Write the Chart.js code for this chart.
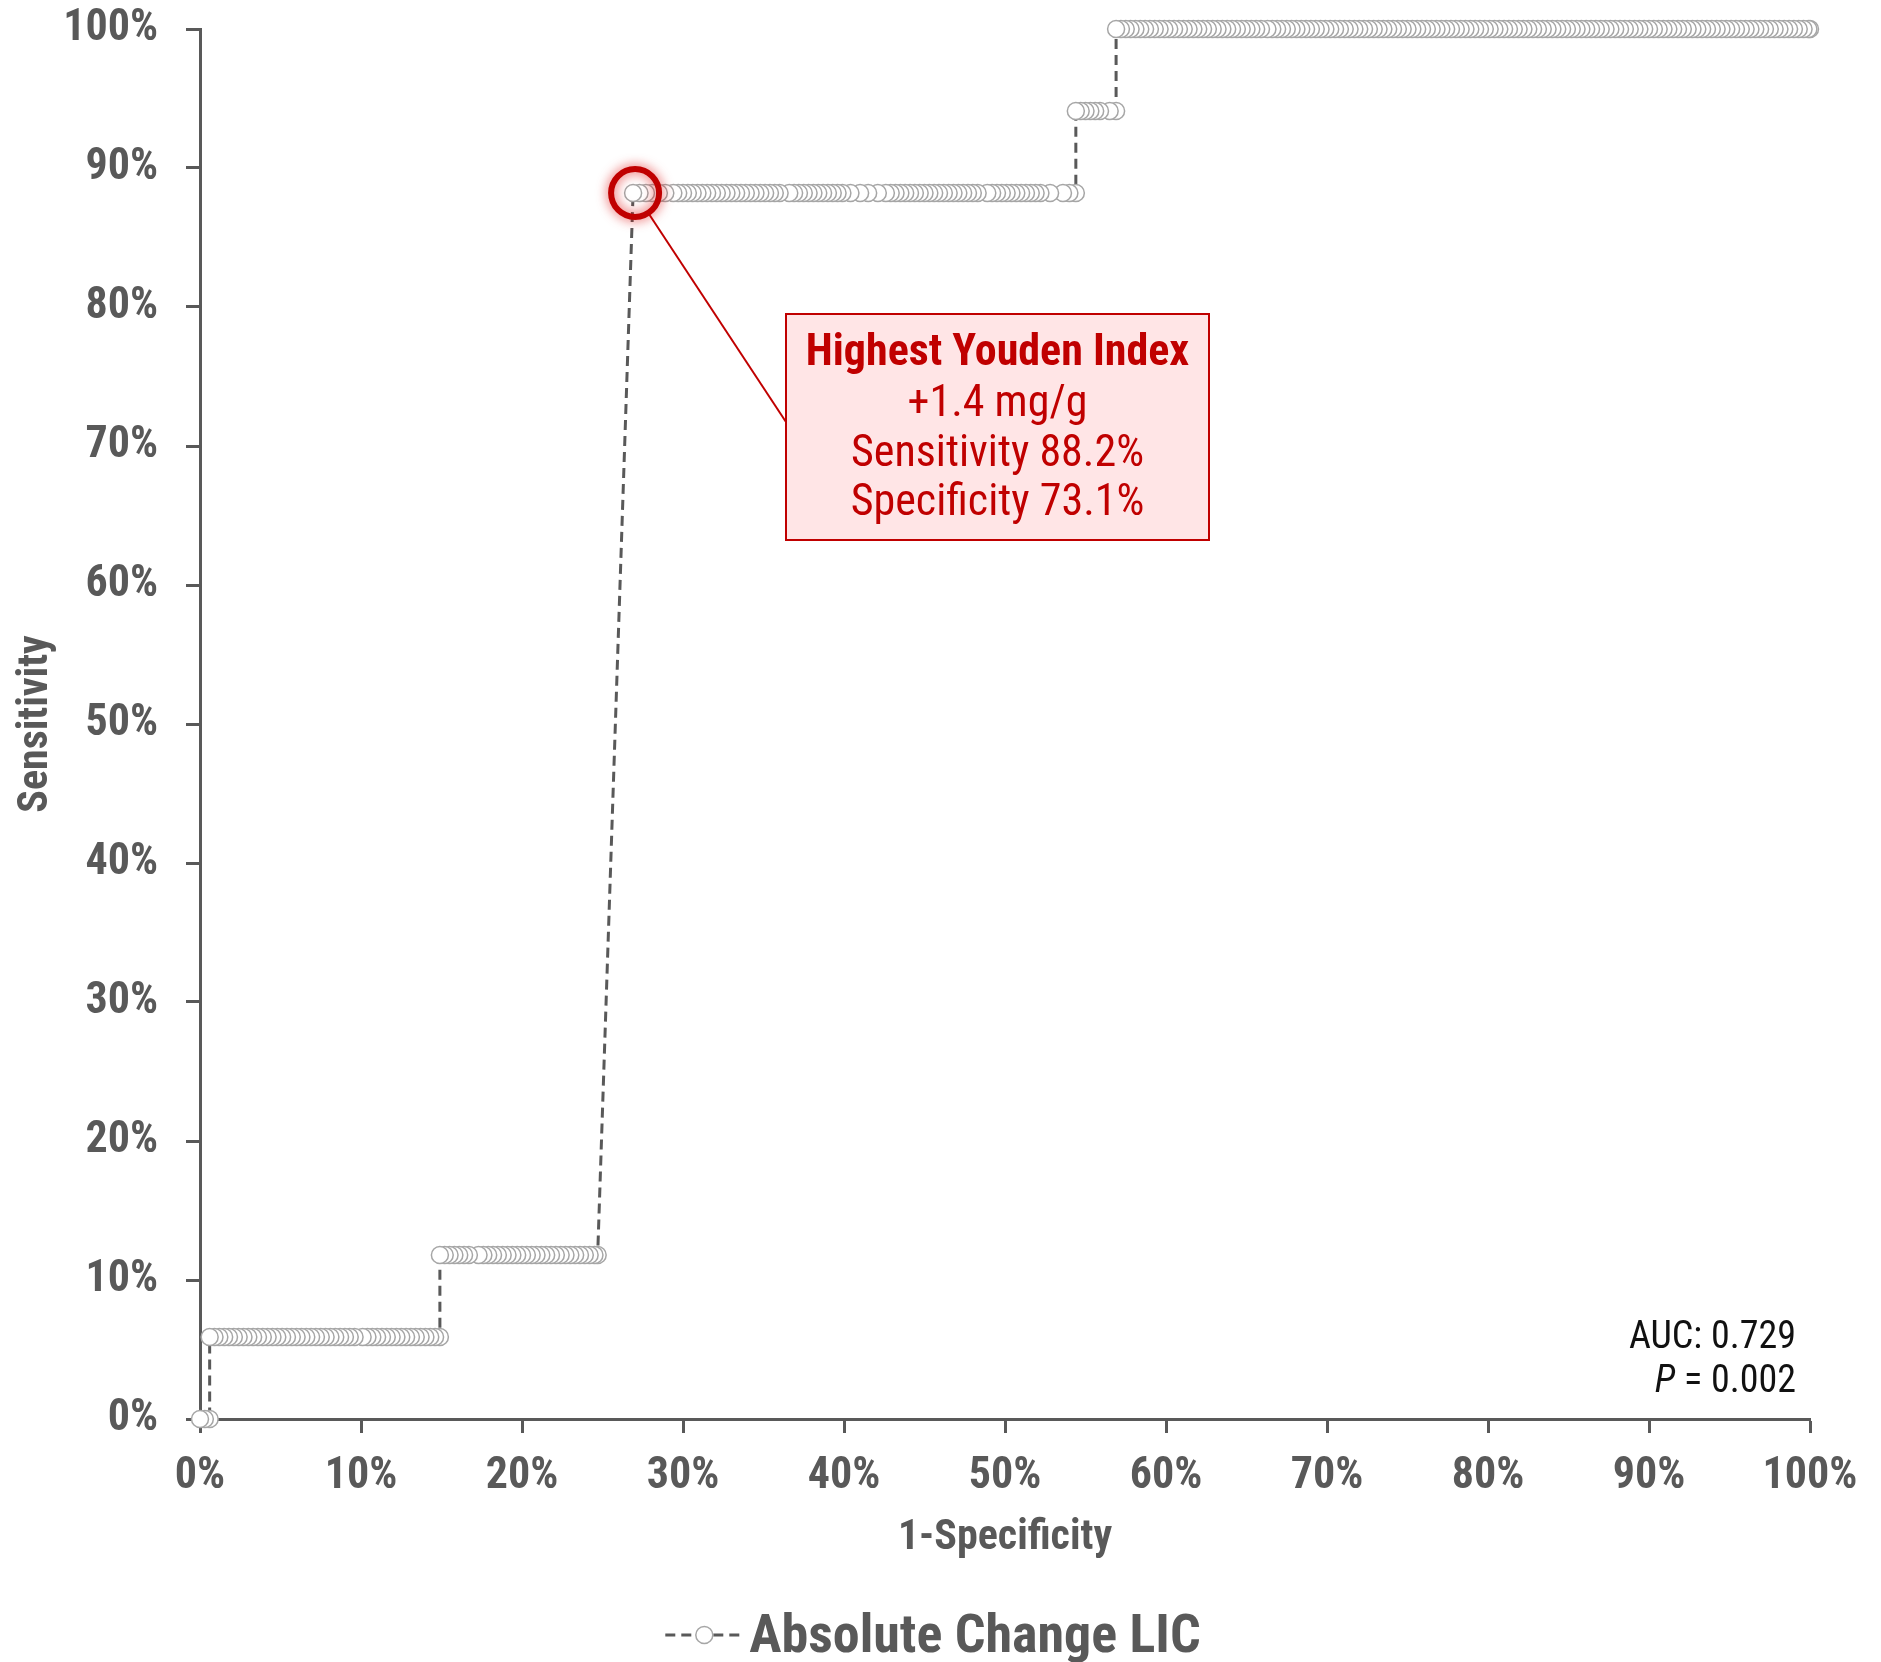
<!DOCTYPE html>
<html>
<head>
<meta charset="utf-8">
<title>ROC curve – Absolute Change LIC</title>
<script src="https://cdn.jsdelivr.net/npm/chart.js@4.4.1/dist/chart.umd.min.js"></script>
<style>
  html, body { margin: 0; padding: 0; background: #ffffff; }
  canvas { display: block; }
</style>
</head>
<body>
<canvas id="roc" width="1881" height="1662"></canvas>
<script>
// ---- data -------------------------------------------------------------
const seriesName = 'Absolute Change LIC';

// sensitivity (%) of each horizontal step of the ROC curve
const sensitivityLevels = [0, 5.9, 11.8, 88.2, 94.1, 100];

// 1-specificity (%) of the cut-off points lying on each step
const fprStep0 = [0.0, 0.3, 0.6];
const fprStep1 = [0.6, 0.9, 1.2, 1.5, 1.8, 2.1, 2.4, 2.7, 3.0, 3.3, 3.6, 3.9, 4.2, 4.5, 4.8, 5.1,
  5.4, 5.7, 6.0, 6.3, 6.6, 6.9, 7.2, 7.5, 7.8, 8.1, 8.4, 8.7, 9.0, 9.3, 9.6, 10.1, 10.4, 10.7,
  11.0, 11.3, 11.6, 11.9, 12.2, 12.5, 12.8, 13.1, 13.4, 13.7, 14.0, 14.3, 14.6, 14.9];
const fprStep2 = [14.9, 15.2, 15.5, 15.8, 16.1, 16.4, 16.7, 17.3, 17.6, 17.9, 18.2, 18.5, 18.8,
  19.1, 19.4, 19.7, 20.0, 20.3, 20.6, 20.9, 21.2, 21.5, 21.8, 22.1, 22.4, 22.7, 23.0, 23.3,
  23.6, 23.9, 24.2, 24.5, 24.7];
const fprStep3 = [26.9, 27.3, 27.7, 28.1, 28.5, 28.9, 29.4, 29.7, 30.0, 30.3, 30.6, 30.9, 31.2,
  31.5, 31.8, 32.1, 32.4, 32.7, 33.0, 33.3, 33.6, 33.9, 34.2, 34.5, 34.8, 35.1, 35.4, 35.7,
  36.0, 36.6, 36.9, 37.2, 37.5, 37.8, 38.1, 38.4, 38.7, 39.0, 39.3, 39.6, 39.9, 40.4, 41.0,
  41.5, 42.1, 42.6, 42.9, 43.2, 43.5, 43.8, 44.1, 44.4, 44.7, 45.0, 45.3, 45.6, 45.9, 46.2,
  46.5, 46.8, 47.1, 47.4, 47.7, 48.0, 48.3, 48.9, 49.2, 49.5, 49.8, 50.1, 50.4, 50.7, 51.0,
  51.3, 51.6, 51.9, 52.2, 52.8, 53.6, 54.0, 54.4];
const fprStep4 = [54.4, 54.7, 55.0, 55.3, 55.6, 55.9, 56.5, 56.9];
const fprStep5 = [56.9, 57.2, 57.5, 57.8, 58.1, 58.4, 58.7, 59.0, 59.3, 59.6, 59.9, 60.2, 60.5,
  60.8, 61.1, 61.4, 61.7, 62.0, 62.3, 62.6, 62.9, 63.2, 63.5, 63.8, 64.1, 64.4, 64.7, 65.0,
  65.3, 65.6, 65.9, 66.3, 66.6, 66.9, 67.2, 67.5, 67.8, 68.1, 68.4, 68.7, 69.0, 69.3, 69.6,
  69.9, 70.2, 70.5, 70.8, 71.1, 71.4, 71.7, 72.0, 72.3, 72.6, 72.9, 73.2, 73.5, 73.8, 74.1,
  74.4, 74.7, 75.0, 75.3, 75.6, 75.9, 76.2, 76.5, 76.8, 77.1, 77.4, 77.7, 78.0, 78.3, 78.6,
  78.9, 79.2, 79.5, 79.8, 80.1, 80.4, 80.7, 81.0, 81.3, 81.6, 81.9, 82.2, 82.5, 82.8, 83.1,
  83.4, 83.7, 84.0, 84.3, 84.6, 84.9, 85.2, 85.5, 85.8, 86.1, 86.4, 86.7, 87.0, 87.3, 87.6,
  87.9, 88.2, 88.5, 88.8, 89.1, 89.4, 89.7, 90.0, 90.3, 90.6, 90.9, 91.2, 91.5, 91.8, 92.1,
  92.4, 92.7, 93.0, 93.3, 93.6, 93.9, 94.2, 94.5, 94.8, 95.1, 95.4, 95.7, 96.0, 96.3, 96.6,
  96.9, 97.2, 97.5, 97.8, 98.1, 98.4, 98.7, 99.0, 99.3, 99.6, 99.9, 100.0];
const fprSteps = [fprStep0, fprStep1, fprStep2, fprStep3, fprStep4, fprStep5];

// optimal cut-off (highest Youden index)
const youdenCutoff = '+1.4 mg/g';
const youdenSensitivity = 88.2;
const youdenSpecificity = 73.1;
const aucValue = '0.729';
const pValue = '0.002';

// axis ticks
const tickValues = [0, 10, 20, 30, 40, 50, 60, 70, 80, 90, 100];
const tickLabels = ['0%', '10%', '20%', '30%', '40%', '50%', '60%', '70%', '80%', '90%', '100%'];

// ---- styling ----------------------------------------------------------
const FONT = "'Liberation Sans Narrow', 'Arial Narrow', 'Roboto Condensed', 'DejaVu Sans Condensed', sans-serif";
const AXIS_GREY = '#595959';
const MARK_RED = '#C00000';
const BOX_FILL = '#FFE5E6';

// The curve is traced from the top-right corner down to the origin,
// so the markers nearer the origin sit on top of their neighbours.
const curvePoints = [];
for (let s = fprSteps.length - 1; s >= 0; s--) {
  const row = fprSteps[s];
  for (let i = row.length - 1; i >= 0; i--) {
    curvePoints.push({ x: row[i], y: sensitivityLevels[s] });
  }
}

function setTicks(scale) {
  scale.ticks = tickValues.map(v => ({ value: v }));
}
function tickText(value) {
  const i = tickValues.indexOf(value);
  return i >= 0 ? tickLabels[i] : '';
}
// the plot frame is fixed by the layout padding, not by label overhang
function clearOverhang(scale) {
  scale.paddingTop = 0;
  scale.paddingBottom = 0;
  scale.paddingLeft = 0;
  scale.paddingRight = 0;
}

// Callout, AUC note and legend drawn on top of the plot
const rocDecor = {
  id: 'rocDecor',
  afterDatasetsDraw(chart) {
    const { ctx, scales: { x, y } } = chart;
    const cx = x.getPixelForValue(100 - youdenSpecificity) + 2;
    const cy = y.getPixelForValue(youdenSensitivity);
    const ringR = 24;

    // callout box
    const box = { left: 786, top: 314, width: 423, height: 226 };
    const anchorX = box.left, anchorY = box.top + 108;

    // connector
    const dx = anchorX - cx, dy = anchorY - cy, len = Math.hypot(dx, dy);
    ctx.save();
    ctx.strokeStyle = MARK_RED;
    ctx.lineWidth = 2;
    ctx.beginPath();
    ctx.moveTo(cx + dx / len * ringR, cy + dy / len * ringR);
    ctx.lineTo(anchorX, anchorY);
    ctx.stroke();

    // glowing ring around the optimal point
    ctx.shadowColor = 'rgba(220, 0, 0, 0.75)';
    ctx.shadowBlur = 12;
    ctx.lineWidth = 6;
    ctx.beginPath();
    ctx.arc(cx, cy, ringR, 0, Math.PI * 2);
    ctx.stroke();
    ctx.shadowBlur = 0;
    ctx.shadowColor = 'transparent';

    ctx.fillStyle = BOX_FILL;
    ctx.fillRect(box.left, box.top, box.width, box.height);
    ctx.lineWidth = 2;
    ctx.strokeRect(box.left, box.top, box.width, box.height);

    const midX = box.left + box.width / 2;
    ctx.fillStyle = MARK_RED;
    ctx.textAlign = 'center';
    ctx.textBaseline = 'alphabetic';
    ctx.font = 'bold 44px ' + FONT;
    ctx.fillText('Highest Youden Index', midX, 365);
    ctx.font = '44px ' + FONT;
    ctx.fillText(youdenCutoff, midX, 416);
    ctx.fillText('Sensitivity ' + youdenSensitivity.toFixed(1) + '%', midX, 466);
    ctx.fillText('Specificity ' + youdenSpecificity.toFixed(1) + '%', midX, 515);

    // AUC / P note, right aligned
    const rx = 1796;
    ctx.fillStyle = '#111111';
    ctx.textAlign = 'right';
    ctx.font = '38px ' + FONT;
    ctx.fillText('AUC: ' + aucValue, rx, 1348);
    const rest = ' = ' + pValue;
    ctx.fillText(rest, rx, 1392);
    const restW = ctx.measureText(rest).width;
    ctx.font = 'italic 38px ' + FONT;
    ctx.fillText('P', rx - restW, 1392);
    ctx.restore();
  },
  afterDraw(chart) {
    const { ctx } = chart;
    const ds = chart.data.datasets[0];
    ctx.save();
    ctx.font = 'bold 54px ' + FONT;
    const textW = ctx.measureText(ds.label).width;
    const symW = 78, gap = 6;
    const startX = 933 - (symW + gap + textW) / 2;
    const symY = 1635;
    ctx.strokeStyle = ds.borderColor;
    ctx.lineWidth = ds.borderWidth;
    ctx.setLineDash(ds.borderDash);
    ctx.beginPath();
    ctx.moveTo(startX, symY);
    ctx.lineTo(startX + symW, symY);
    ctx.stroke();
    ctx.setLineDash([]);
    ctx.beginPath();
    ctx.arc(startX + symW / 2, symY, ds.pointRadius, 0, Math.PI * 2);
    ctx.fillStyle = ds.pointBackgroundColor;
    ctx.fill();
    ctx.lineWidth = ds.pointBorderWidth;
    ctx.strokeStyle = ds.pointBorderColor;
    ctx.stroke();
    ctx.fillStyle = AXIS_GREY;
    ctx.textAlign = 'left';
    ctx.textBaseline = 'alphabetic';
    ctx.fillText(ds.label, startX + symW + gap, 1652);
    ctx.restore();
  }
};

const axisCommon = {
  type: 'linear',
  min: 0,
  max: 100,
  afterBuildTicks: setTicks,
  grid: {
    drawOnChartArea: false,
    drawTicks: true,
    tickLength: 14,
    tickWidth: 3,
    tickColor: AXIS_GREY,
    color: AXIS_GREY
  },
  border: { display: true, color: AXIS_GREY, width: 3 }
};

new Chart(document.getElementById('roc'), {
  type: 'scatter',
  data: {
    datasets: [{
      label: seriesName,
      data: curvePoints,
      showLine: true,
      clip: false,
      borderColor: AXIS_GREY,
      borderWidth: 3,
      borderDash: [10, 6],
      pointRadius: 8.5,
      pointHoverRadius: 8.5,
      pointBackgroundColor: '#ffffff',
      pointBorderColor: '#A6A6A6',
      pointBorderWidth: 1.5
    }]
  },
  options: {
    responsive: false,
    devicePixelRatio: 1,
    animation: false,
    events: [],
    layout: { padding: { left: 0, top: 29, right: 71, bottom: 0 } },
    plugins: {
      legend: { display: false },
      tooltip: { enabled: false }
    },
    scales: {
      x: {
        ...axisCommon,
        position: 'bottom',
        afterFit(scale) { scale.height = 243; clearOverhang(scale); },
        ticks: {
          callback: tickText,
          autoSkip: false,
          maxRotation: 0,
          padding: 18,
          color: AXIS_GREY,
          font: { family: FONT, size: 44, weight: 'bold' }
        },
        title: {
          display: true,
          text: '1-Specificity',
          color: AXIS_GREY,
          font: { family: FONT, size: 42, weight: 'bold' },
          padding: { top: 0, bottom: 98 }
        }
      },
      y: {
        ...axisCommon,
        position: 'left',
        afterFit(scale) { scale.width = 200; clearOverhang(scale); },
        ticks: {
          callback: tickText,
          autoSkip: false,
          padding: 28,
          color: AXIS_GREY,
          font: { family: FONT, size: 44, weight: 'bold' }
        },
        title: {
          display: true,
          text: 'Sensitivity',
          color: AXIS_GREY,
          font: { family: FONT, size: 42, weight: 'bold' },
          padding: { top: 11, bottom: 0 }
        }
      }
    }
  },
  plugins: [rocDecor]
});
</script>
</body>
</html>
